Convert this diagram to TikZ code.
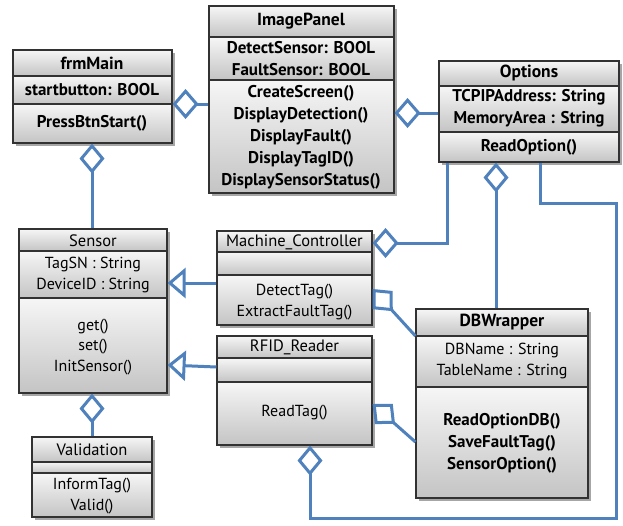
\documentclass[tikz,border=0pt]{standalone}
\usepackage{fontspec}
\setmainfont{PT Sans}
\usetikzlibrary{arrows.meta,fit}
\definecolor{conn}{RGB}{79,129,189}
\definecolor{boxl}{RGB}{50,50,50}
\definecolor{gtop}{RGB}{246,246,246}
\definecolor{gbot}{RGB}{196,196,196}
\tikzset{
  comp/.style={top color=gtop,bottom color=gbot},
  boxline/.style={draw=boxl,line width=1.1pt},
  boxnode/.style={draw=boxl,line width=1.1pt,inner sep=0pt,rectangle},
  shadowc/.style={fill=black,opacity=.35},
  tb/.style={font=\fontsize{17}{22}\selectfont\bfseries,align=center,inner sep=0pt},
  tr/.style={font=\fontsize{16}{20.5}\selectfont,align=center,inner sep=0pt},
  ttl/.style={font=\fontsize{17.5}{20}\selectfont\bfseries,align=center,inner sep=0pt},
  ttr/.style={font=\fontsize{16.5}{20}\selectfont,align=center,inner sep=0pt},
  link/.style={draw=conn,line width=3pt},
  aggrH/.style={link,-{Diamond[open,fill=white,length=26pt,width=30pt,line width=3pt]}},
  aggrV/.style={link,-{Diamond[open,fill=white,length=30pt,width=25pt,line width=3pt]}},
  aggrD/.style={link,-{Diamond[open,fill=white,length=30pt,width=27pt,line width=3pt]}},
  gen/.style={link,-{Triangle[open,fill=white,length=18pt,width=30pt,line width=3pt]}},
}
\newcommand\umlclass[7]{%
  \fill[shadowc] (#2+3,#3+3) rectangle (#4+3,#5+3);
  \shade[comp] (#2,#3) rectangle (#4,#6);
  \shade[comp] (#2,#6) rectangle (#4,#7);
  \shade[comp] (#2,#7) rectangle (#4,#5);
  \draw[boxline] (#2,#6) -- (#4,#6) (#2,#7) -- (#4,#7);
  \node[boxnode,fit={(#2,#3) (#4,#5)}] (#1) {};
}
\begin{document}
\begin{tikzpicture}[x=1pt,y=-1pt]
\useasboundingbox (0,0) rectangle (623,525);
\fill[white] (0,0) rectangle (623,525);

% classes
\umlclass{fm}{13}{50}{172}{143}{76}{104}
\umlclass{ip}{209}{6}{394}{193}{37}{80}
\umlclass{opt}{439}{61}{619}{162}{86}{132}
\umlclass{sensor}{19}{229}{167}{393}{251}{298}
\umlclass{val}{32}{437}{152}{517}{462}{473}
\umlclass{mc}{217}{231}{372}{325}{252}{275}
\umlclass{rfid}{217}{336}{372}{445}{358}{382}
\umlclass{dbw}{416}{309}{588}{498}{336}{387}

% texts
\node[ttl] (fmT) at (92,63) {frmMain};
\node[tb] (fmA) at (92,90) {startbutton: BOOL};
\node[tb] (fmM) at (92,123) {PressBtnStart()};

\node[ttl] (ipT) at (301,21) {ImagePanel};
\node[tb] (ipA) at (301,58.5) {DetectSensor: BOOL\\FaultSensor: BOOL};
\node[tb] (ipM) at (301,137) {CreateScreen()\\DisplayDetection()\\DisplayFault()\\DisplayTagID()\\DisplaySensorStatus()};

\node[ttl] (optT) at (529,73) {Options};
\node[tb] (optA) at (529,108.5) {TCPIPAddress: String\\MemoryArea : String};
\node[tb] (optM) at (529,147) {ReadOption()};

\node[ttr] (senT) at (93,240.5) {Sensor};
\node[tr] (senA) at (93,275) {TagSN : String\\DeviceID : String};
\node[tr] (senM) at (93,347) {get()\\set()\\InitSensor()};

\node[ttr] (valT) at (92,450) {Validation};
\node[tr] (valM) at (92,496) {InformTag()\\Valid()};

\node[ttr] (mcT) at (294.5,242) {Machine\_Controller};
\node[tr] (mcM) at (294.5,302) {DetectTag()\\ExtractFaultTag()};

\node[ttr] (rfT) at (294.5,347) {RFID\_Reader};
\node[tr] (rfM) at (294.5,413) {ReadTag()};

\node[ttl] (dbT) at (502,322.5) {DBWrapper};
\node[tr] (dbA) at (502,361) {DBName : String\\TableName : String};
\node[tb] (dbM) at (502,443.5) {ReadOptionDB()\\SaveFaultTag()\\SensorOption()};

% connectors
\draw[aggrH] (ip.west |- 0,104) -- (fm.east |- 0,104);
\draw[aggrV] (sensor.north -| 92,0) -- (fm.south -| 92,0);
\draw[aggrH] (opt.west |- 0,113) -- (ip.east |- 0,113);
\draw[aggrV] (dbw.north -| 496,0) -- (opt.south -| 496,0);
\draw[aggrH] (opt.south -| 447,0) |- (mc.east |- 0,243);
\coordinate (r1) at (616,203);
\coordinate (r2) at (310,518);
\draw[aggrV] (opt.south -| 540,0) |- (r1) |- (r2) -- (rfid.south -| 310,0);
\draw[aggrD] (dbw.west |- 0,336) -- (mc.east |- 0,289);
\draw[aggrD] (dbw.west |- 0,442) -- (rfid.east |- 0,404);
\draw[gen] (mc.west |- 0,283) -- (sensor.east |- 0,283);
\draw[gen] (rfid.west |- 0,367) -- (sensor.east |- 0,365);
\draw[aggrV] (val.north -| 92,0) -- (sensor.south -| 92,0);
\end{tikzpicture}
\end{document}
